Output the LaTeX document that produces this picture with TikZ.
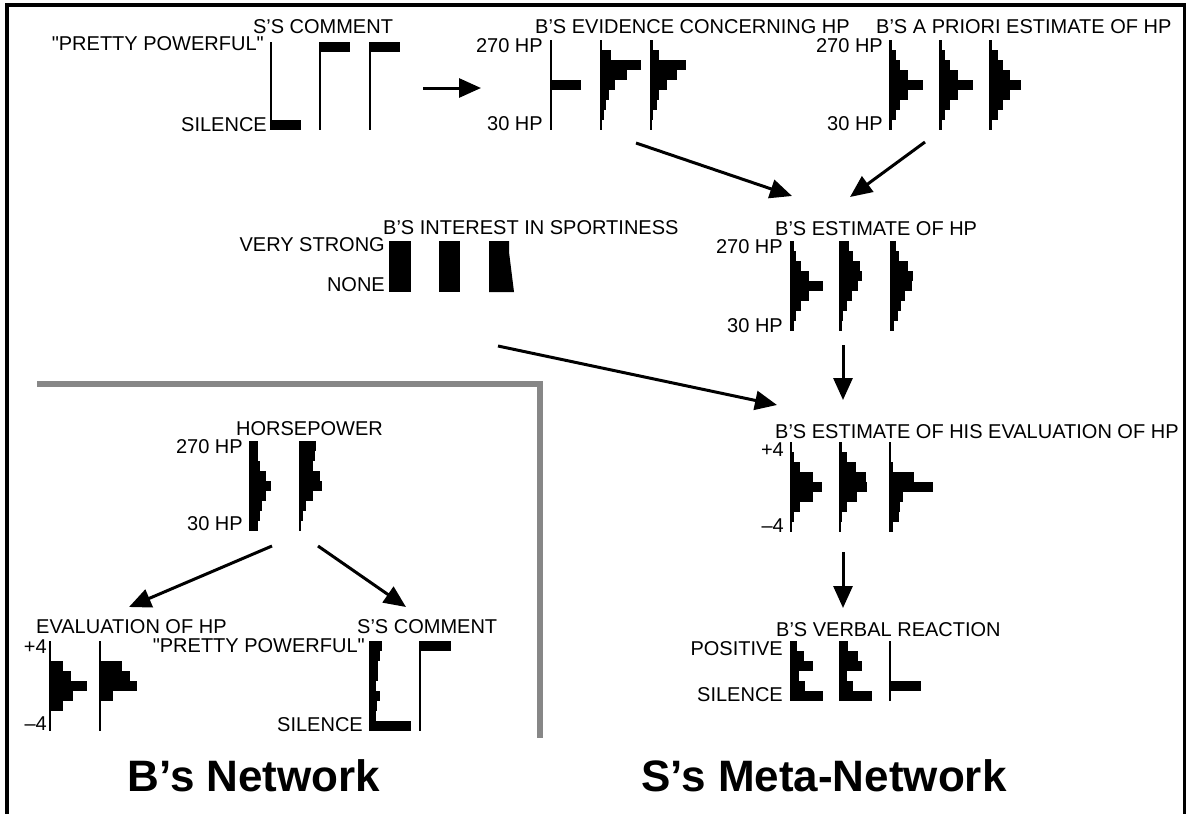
\documentclass[tikz,border=0pt]{standalone}
\usepackage{fontspec}
\setmainfont{Liberation Sans}[Ligatures=TeXOff]
\usetikzlibrary{arrows.meta}
\tikzset{
  lbl/.style={font=\fontsize{20}{24}\selectfont, inner sep=0pt, text=black},
  big/.style={font=\fontsize{44}{50}\selectfont\bfseries, inner sep=0pt, text=black},
  axisline/.style={line width=2pt, black},
  flow/.style={line width=3pt, black, -{Triangle[length=22pt,width=19pt]}},
  frameline/.style={line width=4pt, black},
  netframe/.style={line width=5.5pt, color=black!47, line cap=rect}
}
\newcommand{\histo}[5]{%
  \pgfmathsetmacro\bh{(#3-#2)/#4}%
  \foreach \w [count=\i] in {#5} {%
    \ifdim \w pt>0pt
      \fill[black] (#1, {#2+(\i-1)*\bh}) rectangle ++(\w, \bh);
    \fi
  }%
  \draw[axisline] (#1,#2) -- (#1,#3);%
}
\begin{document}
\begin{tikzpicture}[x=1pt,y=-1pt]
\useasboundingbox (0,0) rectangle (1186,814);
% outer frame
\draw[frameline] (6.5,5) -- (1184.5,5);
\draw[frameline] (6.5,3) -- (6.5,814);
\draw[frameline] (1184.5,3) -- (1184.5,814);
% B's network frame
\draw[netframe] (40,384) -- (540,384) -- (540,735);

% ---------- S's comment (top) ----------
\node[lbl, anchor=base] (t-com1) at (323,33) {S’S COMMENT};
\node[lbl, anchor=base east] (l-com1a) at (264,50) {"PRETTY POWERFUL"};
\node[lbl, anchor=base east] (l-com1b) at (267,131) {SILENCE};
\histo{271}{42}{130}{9}{0,0,0,0,0,0,0,0,30}
\histo{320}{42}{130}{9}{30,0,0,0,0,0,0,0,0}
\histo{370}{42}{130}{9}{30,0,0,0,0,0,0,0,0}

% ---------- B's evidence ----------
\node[lbl, anchor=base west] (t-evid) at (535,33) {B’S EVIDENCE CONCERNING HP};
\node[lbl, anchor=base east] (l-evida) at (543,52) {270 HP};
\node[lbl, anchor=base east] (l-evidb) at (543,130) {30 HP};
\histo{551}{40}{130}{9}{0,0,0,0,30,0,0,0,0}
\histo{601}{40}{130}{9}{1,10,40,26,14,8,5,3,0}
\histo{651}{40}{130}{9}{2,8,35,26,16,8,6,2,0}

% ---------- B's a priori ----------
\node[lbl, anchor=base west] (t-prior) at (876,33) {B’S A PRIORI ESTIMATE OF HP};
\node[lbl, anchor=base east] (l-priora) at (883,52) {270 HP};
\node[lbl, anchor=base east] (l-priorb) at (883,130) {30 HP};
\histo{890}{40}{130}{9}{2,6,10,18,33,18,10,6,2}
\histo{940}{40}{130}{9}{2,5,10,18,33,18,10,5,2}
\histo{990}{40}{130}{9}{2,8,13,20,31,20,13,8,2}

% ---------- B's interest in sportiness ----------
\node[lbl, anchor=base west] (t-int) at (383,234) {B’S INTEREST IN SPORTINESS};
\node[lbl, anchor=base east] (l-inta) at (385,251) {VERY STRONG};
\node[lbl, anchor=base east] (l-intb) at (385,291) {NONE};
\fill[black] (389,241) rectangle (411,292);
\fill[black] (439,241) rectangle (460,292);
\fill[black] (489,241) -- (509,241) -- (509,252) -- (514,292) -- (489,292) -- cycle;

% ---------- B's estimate of HP ----------
\node[lbl, anchor=base west] (t-est) at (775,235) {B’S ESTIMATE OF HP};
\node[lbl, anchor=base east] (l-esta) at (783,253) {270 HP};
\node[lbl, anchor=base east] (l-estb) at (783,332) {30 HP};
\histo{791}{241}{331}{9}{3,5,10,18,32,18,10,5,3}
\histo{840}{241}{331}{9}{9,13,20,22,18,12,7,3,2}
\histo{891}{241}{331}{9}{5,8,17,22,21,14,10,7,3}

% ---------- B's estimate of his evaluation ----------
\node[lbl, anchor=base west] (t-eval) at (775,438) {B’S ESTIMATE OF HIS EVALUATION OF HP};
\node[lbl, anchor=base east] (l-evala) at (784,456) {+4};
\node[lbl, anchor=base east] (l-evalb) at (784,532) {–4};
\histo{791}{442}{532}{9}{1,3,9,22,31,22,9,3,1}
\histo{840}{442}{532}{9}{2,7,16,26,27,17,7,2,0}
\histo{890}{442}{532}{9}{1,1,3,24,43,13,10,9,3}

% ---------- B's verbal reaction ----------
\node[lbl, anchor=base west] (t-verb) at (776,636) {B’S VERBAL REACTION};
\node[lbl, anchor=base east] (l-verba) at (783,655) {POSITIVE};
\node[lbl, anchor=base east] (l-verbb) at (783,701) {SILENCE};
\histo{791}{641}{701}{6}{6,13,22,8,14,32}
\histo{840}{641}{701}{6}{8,18,22,7,13,32}
\histo{890}{641}{701}{6}{0,0,0,0,31,0}

% ---------- Horsepower ----------
\node[lbl, anchor=base west] (t-hp) at (236,435) {HORSEPOWER};
\node[lbl, anchor=base east] (l-hpa) at (243,453) {270 HP};
\node[lbl, anchor=base east] (l-hpb) at (243,530) {30 HP};
\histo{250}{441}{531}{9}{8,8,10,16,21,16,12,10,8}
\histo{300}{441}{531}{9}{16,15,13,20,22,13,6,3,1}

% ---------- Evaluation of HP ----------
\node[lbl, anchor=base west] (t-evb) at (36,633) {EVALUATION OF HP};
\node[lbl, anchor=base east] (l-evba) at (47,653) {+4};
\node[lbl, anchor=base east] (l-evbb) at (47,730) {–4};
\histo{50}{641}{731}{9}{0,0,13,21,37,23,13,0,0}
\histo{100}{641}{731}{9}{0,0,22,30,37,13,0,0,0}

% ---------- S's comment (bottom) ----------
\node[lbl, anchor=base west] (t-com2) at (357,633) {S’S COMMENT};
\node[lbl, anchor=base east] (l-com2a) at (365,652) {"PRETTY POWERFUL"};
\node[lbl, anchor=base east] (l-com2b) at (363,731) {SILENCE};
\histo{370}{641}{731}{9}{12,10,8,8,6,10,7,6,41}
\histo{420}{641}{731}{9}{31,0,0,0,0,0,0,0,0}

% ---------- titles ----------
\node[big, anchor=base] (net) at (254,791) {B’s Network};
\node[big, anchor=base] (meta) at (824,791) {S’s Meta-Network};

% ---------- connectors ----------
\coordinate (a1s) at (423,88);  \coordinate (a1e) at (481,88);
\coordinate (a2s) at (636,143); \coordinate (a2e) at (792,196);
\coordinate (a3s) at (925,142); \coordinate (a3e) at (850,197);
\coordinate (a4s) at (843,345); \coordinate (a4e) at (843,400);
\coordinate (a5s) at (498,346); \coordinate (a5e) at (777,405);
\coordinate (a6s) at (843,552); \coordinate (a6e) at (843,608);
\coordinate (a7s) at (272,546); \coordinate (a7e) at (129,607);
\coordinate (a8s) at (318,546); \coordinate (a8e) at (406,607);
\draw[flow] (a1s) -- (a1e);
\draw[flow] (a2s) -- (a2e);
\draw[flow] (a3s) -- (a3e);
\draw[flow] (a4s) -- (a4e);
\draw[flow] (a5s) -- (a5e);
\draw[flow] (a6s) -- (a6e);
\draw[flow] (a7s) -- (a7e);
\draw[flow] (a8s) -- (a8e);
\end{tikzpicture}
\end{document}
